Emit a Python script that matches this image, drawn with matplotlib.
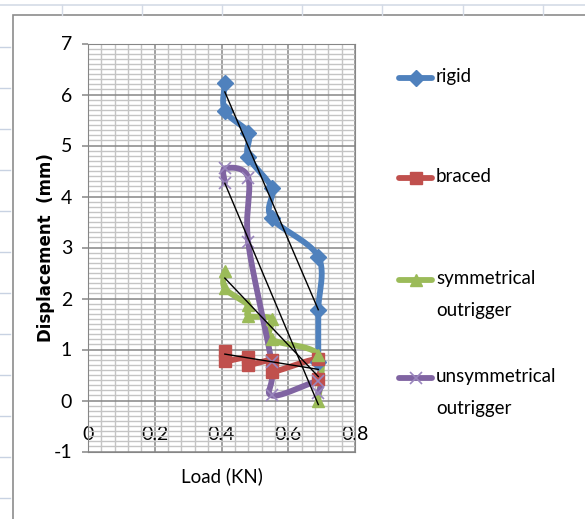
import numpy as np
import matplotlib
matplotlib.use('Agg')
import matplotlib.pyplot as plt
from matplotlib.lines import Line2D
from matplotlib.patches import Rectangle
from matplotlib import font_manager

# data
load = [0.41, 0.41, 0.48, 0.48, 0.55, 0.55, 0.69, 0.69]
rigid_load = [0.41, 0.41, 0.48, 0.48, 0.55, 0.55, 0.69, 0.69, 0.69]
rigid = [6.22, 5.68, 5.25, 4.78, 4.17, 3.58, 2.82, 1.77, 0.75]
braced = [0.98, 0.78, 0.85, 0.70, 0.79, 0.56, 0.81, 0.42]
sym_out = [2.53, 2.20, 1.87, 1.66, 1.60, 1.20, 0.90, 0.00]
unsym_out = [4.27, 4.55, 4.37, 3.10, 0.75, 0.10, 0.38, 0.15]

# linear trendlines (end values at first and last load)
trend_load = [0.41, 0.69]
rigid_trend = [6.05, 1.78]
braced_trend = [0.91, 0.61]
sym_trend = [2.40, 0.47]
unsym_trend = [4.26, -0.08]

series = [
    ('rigid', rigid_load, rigid, rigid_trend, '#4F81BD', 'D', 8),
    ('braced', load, braced, braced_trend, '#C0504D', 's', 8),
    ('symmetrical\noutrigger', load, sym_out, sym_trend, '#9BBB59', '^', 9),
    ('unsymmetrical\noutrigger', load, unsym_out, unsym_trend, '#8064A2', 'x', 9),
]

plt.rcParams['axes.unicode_minus'] = False
names = {f.name for f in font_manager.fontManager.ttflist}
narrow = None
for cand in ['Liberation Sans Narrow', 'Lato', 'Open Sans']:
    if cand in names:
        narrow = dict(family=cand)
        break
if narrow is None:
    narrow = dict(family='DejaVu Sans')

W, H = 585, 519
fig = plt.figure(figsize=(W / 100, H / 100), dpi=100)


def fx(px):
    return px / W


def fy(py):
    return 1 - py / H


# spreadsheet background bits and chart border
fig.add_artist(Line2D([0, 1], [fy(5), fy(5)], color='#d4dbe6', lw=1.2, transform=fig.transFigure))
for vx in [62, 142, 222, 302, 382, 463, 543]:
    fig.add_artist(Line2D([fx(vx), fx(vx)], [fy(5), fy(15)], color='#d4dbe6', lw=1, transform=fig.transFigure))
for hy in range(47, 519, 41):
    fig.add_artist(Line2D([0, fx(10)], [fy(hy), fy(hy)], color='#c8d2e2', lw=1, transform=fig.transFigure))
fig.add_artist(Rectangle((fx(13), fy(530)), 1, fy(15) - fy(530), fill=False,
                         edgecolor='#8c8c8c', lw=1.2, transform=fig.transFigure))

ax = fig.add_axes([fx(88), fy(451.5), (355 - 88) / W, (451.5 - 43.5) / H])
ax.set_xlim(0, 0.8)
ax.set_ylim(-1, 7)
ax.set_xticks(np.arange(0, 0.81, 0.2))
ax.set_xticklabels(['0', '0.2', '0.4', '0.6', '0.8'])
ax.set_yticks(range(-1, 8))
ax.set_xticks(np.arange(0, 0.801, 0.04), minor=True)
ax.set_yticks(np.arange(-1, 7.01, 0.1), minor=True)
ax.grid(True, which='minor', color='#c4c4c4', lw=1)
ax.grid(True, which='major', color='#868686', lw=1.1)
ax.set_axisbelow(True)
for s in ax.spines.values():
    s.set_color('#868686')
ax.tick_params(axis='x', which='both', length=0, pad=-18, labelsize=14)
ax.tick_params(axis='y', which='major', length=4.5, width=1.1, color='#868686', pad=7, labelsize=14)
ax.tick_params(axis='y', which='minor', length=0)
for lab in ax.get_xticklabels() + ax.get_yticklabels():
    lab.set(**narrow)

fig.canvas.draw()


def smooth(x, y, n=24):
    # Catmull-Rom style smoothing done in screen space, like Excel's smoothed line
    p = ax.transData.transform(np.column_stack([x, y]))
    out = [p[0]]
    for i in range(len(p) - 1):
        p0 = p[i - 1] if i > 0 else p[i]
        p1, p2 = p[i], p[i + 1]
        p3 = p[i + 2] if i + 2 < len(p) else p[i + 1]
        c1 = p1 + (p2 - p0) / 6
        c2 = p2 - (p3 - p1) / 6
        t = np.linspace(0, 1, n)[1:, None]
        seg = (1 - t) ** 3 * p1 + 3 * (1 - t) ** 2 * t * c1 + 3 * (1 - t) * t ** 2 * c2 + t ** 3 * p2
        out.extend(seg)
    out = ax.transData.inverted().transform(np.array(out))
    return out[:, 0], out[:, 1]


for name, xs, ys, tr, col, mk, ms in series:
    sx, sy = smooth(xs, ys)
    ax.plot(sx, sy, color=col, lw=4.2, solid_capstyle='round', zorder=3)
    if mk == 'x':
        ax.plot(xs, ys, ls='none', marker=mk, ms=ms, mew=1.2, color='#9a86bd', zorder=4)
    else:
        ax.plot(xs, ys, ls='none', marker=mk, ms=ms, color=col, zorder=4)
for name, xs, ys, tr, col, mk, ms in series:
    ax.plot(trend_load, tr, color='black', lw=1, zorder=5)

ax.set_ylabel('Displacement  (mm)', fontsize=12, fontweight='bold')
ax.yaxis.set_label_coords((55 - 88) / (355 - 88), 0.5)
fig.text(fx(222), fy(476), 'Load (KN)', ha='center', va='center', fontsize=13.5, **narrow)

# legend drawn at the right, as in the sheet
legend_y = [78, 178, 280, 378]
for (name, xs, ys, tr, col, mk, ms), ly in zip(series, legend_y):
    fig.add_artist(Line2D([fx(399), fx(432)], [fy(ly), fy(ly)], color=col, lw=4.2,
                          solid_capstyle='round', transform=fig.transFigure))
    if mk == 'x':
        fig.add_artist(Line2D([fx(415.5)], [fy(ly)], marker=mk, ms=ms, mew=1.2, color='#9a86bd',
                              transform=fig.transFigure))
    else:
        fig.add_artist(Line2D([fx(415.5)], [fy(ly)], marker=mk, ms=ms, color=col,
                              transform=fig.transFigure))
    fig.text(fx(436), fy(ly - 10), name, ha='left', va='top', fontsize=13.5,
             linespacing=2.05, **narrow)

fig.savefig('out.png', dpi=100)
